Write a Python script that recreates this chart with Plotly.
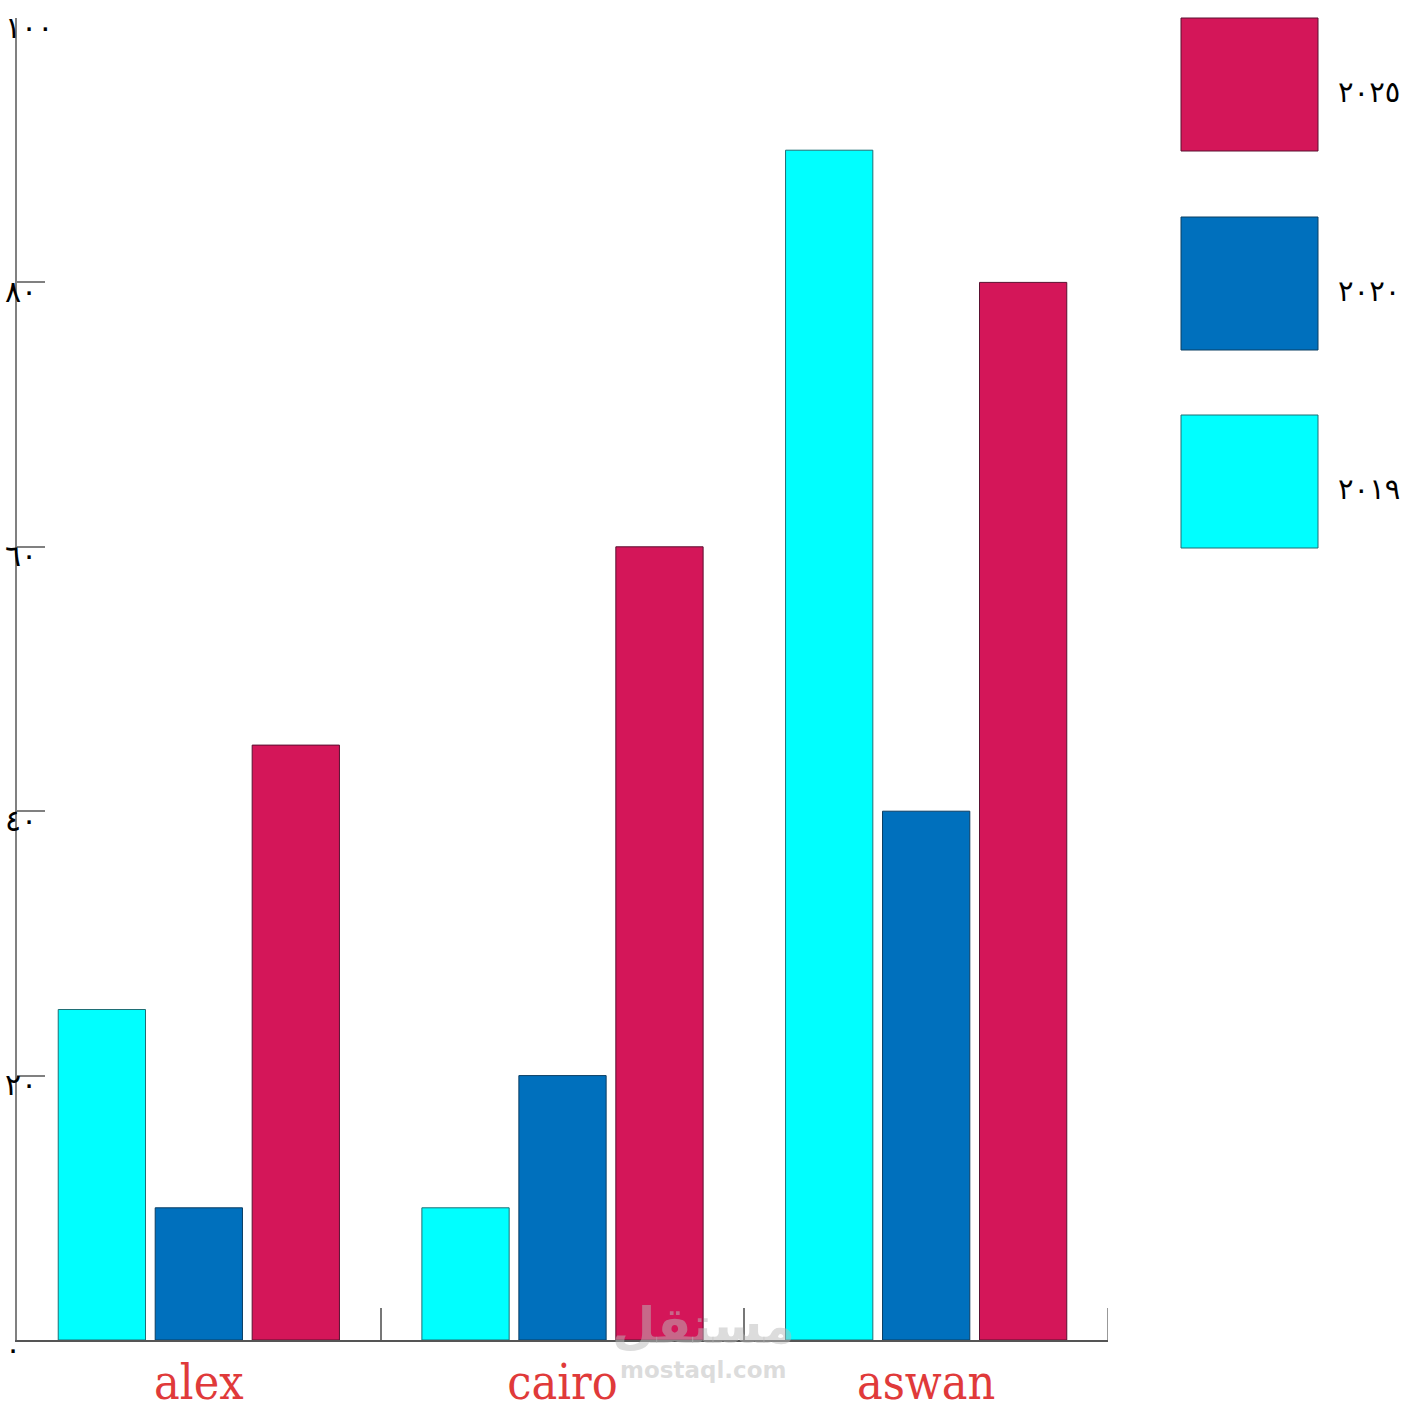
import plotly.graph_objects as go

cities = ["alex", "cairo", "aswan"]
years = ["2019", "2020", "2025"]
year_labels = ["٢٠١٩", "٢٠٢٠", "٢٠٢٥"]
v2019 = [25, 10, 90]
v2020 = [10, 20, 40]
v2025 = [45, 60, 80]
series = [v2019, v2020, v2025]
colors = ["#00FFFF", "#0070BD", "#D41659"]
outline = ["#1f6f75", "#0b3e63", "#5a1030"]

ytickvals = [0, 20, 40, 60, 80, 100]
yticktext = ["٠", "٢٠", "٤٠", "٦٠", "٨٠", "١٠٠"]
xrange_ = [-0.5, 2.5]

fig = go.Figure()
for name, vals, c, oc in zip(years, series, colors, outline):
    fig.add_trace(go.Bar(x=cities, y=vals, name=name, marker=dict(color=c, line=dict(color=oc, width=1)),
                         showlegend=False))

W, H = 1408, 1413
L, R, T, B = 17, 300, 18, 73
fig.update_layout(
    width=W, height=H,
    margin=dict(l=L, r=R, t=T, b=B, autoexpand=False),
    paper_bgcolor="white", plot_bgcolor="white",
    barmode="group", bargap=0.2, bargroupgap=0.1,
    xaxis=dict(range=xrange_, showline=True, linecolor="#555555", linewidth=1.5,
               ticks="inside", tickson="boundaries", ticklen=32, tickcolor="#777777", tickwidth=1.5,
               showgrid=False, zeroline=False, automargin=False,
               tickfont=dict(family="DejaVu Serif Condensed, serif", size=48, color="#E03A3A")),
    yaxis=dict(range=[0, 100], showline=True, linecolor="#808080", linewidth=1.5,
               ticks="inside", ticklen=28, tickcolor="#808080", tickwidth=1.5,
               tickvals=ytickvals, showticklabels=False, showgrid=False, zeroline=False,
               automargin=False),
)

# closing boundary tick at the right end of the category axis
fig.add_shape(type="line", xref="x", yref="y", x0=xrange_[1], x1=xrange_[1],
              ysizemode="pixel", yanchor=0, y0=0, y1=32,
              line=dict(color="#777777", width=1.5))

# y tick labels (left-aligned, straddling the axis as in the reference)
for v, t in zip(ytickvals, yticktext):
    fig.add_annotation(xref="paper", yref="y", x=-14 / (W - L - R), y=v, yshift=-9,
                       text=t, showarrow=False, xanchor="left", yanchor="middle",
                       font=dict(family="DejaVu Sans", size=30, color="black"))

# legend drawn as large swatches (paper coords), top entry = 2025
pw = W - L - R
ph = H - T - B
def px_x(x):
    return (x - L) / pw
def px_y(y):
    return 1 - (y - T) / ph

sw_tops = [415, 217, 18]
for lab, c, oc, top in zip(year_labels, colors, outline, sw_tops):
    fig.add_shape(type="rect", xref="paper", yref="paper",
                  x0=px_x(1181), x1=px_x(1318), y0=px_y(top + 133), y1=px_y(top),
                  fillcolor=c, line=dict(color=oc, width=1))
    fig.add_annotation(xref="paper", yref="paper", x=px_x(1336), y=px_y(top + 74),
                       text=lab, showarrow=False, xanchor="left", yanchor="middle",
                       font=dict(family="DejaVu Sans", size=29, color="black"))

# watermark
fig.add_annotation(xref="paper", yref="paper", x=px_x(703), y=px_y(1326), text="<b>مستقل</b>",
                   showarrow=False, xanchor="center", yanchor="middle",
                   font=dict(family="DejaVu Sans", size=50, color="rgba(185,185,185,0.5)"))
fig.add_annotation(xref="paper", yref="paper", x=px_x(703), y=px_y(1370), text="<b>mostaql.com</b>",
                   showarrow=False, xanchor="center", yanchor="middle",
                   font=dict(family="DejaVu Sans", size=23, color="rgba(185,185,185,0.5)"))

fig.write_html("out.html", config={"displayModeBar": False},
               post_script="document.body.style.margin='0';document.body.style.overflow='hidden';")
